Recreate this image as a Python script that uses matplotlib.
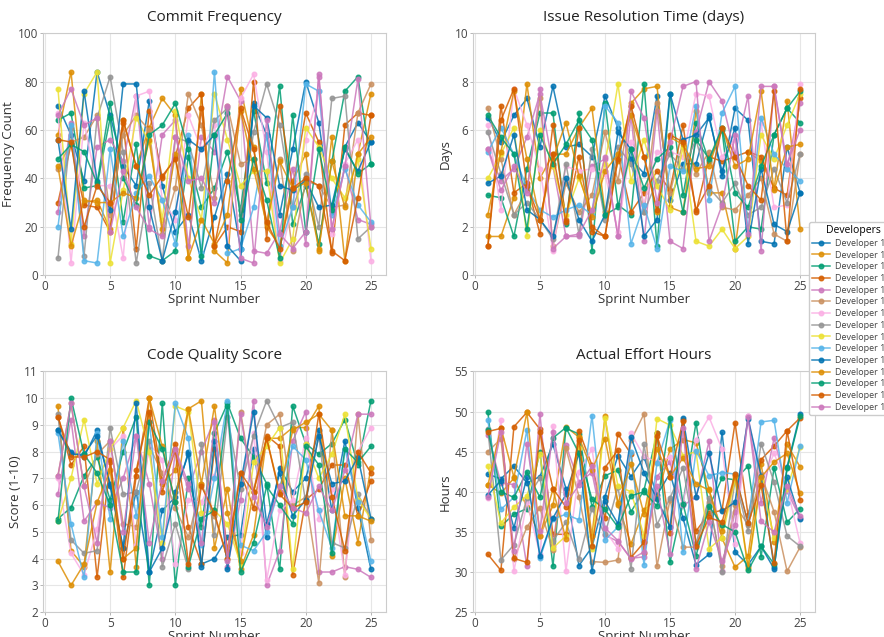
import matplotlib
matplotlib.use("Agg")
import matplotlib.pyplot as plt
import seaborn as sns

# sprint numbers and developer ids
sprints = list(range(1, 26))
developers = ["Developer %d" % d for d in range(100, 115)]

# Commit Frequency (count per sprint), one row per developer
commit_freq = [
    [70, 58, 39, 84, 66, 45, 37, 72, 37, 18, 25, 6, 24, 42, 11, 71, 58, 25, 52, 80, 63, 26, 53, 63, 55],
    [58, 84, 30, 31, 19, 64, 45, 61, 73, 66, 7, 75, 10, 5, 77, 53, 20, 12, 39, 50, 10, 57, 6, 50, 75],
    [64, 67, 36, 37, 65, 22, 54, 8, 6, 10, 49, 28, 36, 51, 27, 68, 38, 78, 21, 37, 13, 47, 76, 82, 46],
    [30, 54, 29, 28, 18, 63, 11, 68, 40, 49, 69, 75, 12, 20, 18, 80, 15, 70, 36, 67, 55, 9, 62, 67, 66],
    [26, 63, 16, 53, 56, 47, 74, 20, 58, 64, 12, 57, 51, 82, 72, 10, 9, 18, 44, 13, 83, 19, 45, 23, 21],
    [44, 55, 57, 66, 25, 58, 66, 60, 17, 36, 75, 62, 32, 70, 46, 48, 22, 48, 10, 39, 37, 28, 29, 67, 79],
    [67, 5, 63, 37, 37, 7, 74, 76, 31, 23, 66, 52, 62, 12, 73, 83, 51, 6, 29, 56, 76, 17, 46, 56, 6],
    [7, 61, 8, 65, 82, 51, 5, 38, 6, 57, 55, 36, 64, 69, 25, 59, 79, 62, 28, 42, 20, 73, 74, 15, 20],
    [77, 13, 75, 84, 5, 35, 65, 55, 23, 68, 40, 23, 75, 56, 37, 43, 43, 5, 15, 61, 53, 40, 32, 48, 11],
    [20, 62, 6, 5, 52, 16, 34, 41, 31, 13, 58, 9, 84, 9, 11, 28, 58, 12, 28, 79, 76, 25, 44, 29, 22],
    [56, 19, 76, 39, 27, 79, 79, 28, 6, 26, 56, 52, 58, 12, 6, 70, 65, 37, 35, 39, 28, 29, 52, 43, 55],
    [45, 12, 31, 30, 30, 34, 32, 56, 19, 50, 7, 23, 13, 25, 68, 44, 21, 47, 36, 38, 11, 47, 28, 50, 57],
    [48, 54, 51, 38, 71, 40, 29, 58, 62, 71, 52, 8, 58, 67, 23, 48, 31, 7, 66, 18, 52, 27, 53, 42, 46],
    [56, 55, 20, 37, 30, 64, 45, 33, 41, 48, 24, 69, 12, 39, 69, 52, 22, 11, 36, 40, 37, 10, 6, 32, 66],
    [66, 77, 62, 65, 18, 43, 28, 19, 16, 57, 39, 40, 30, 70, 7, 5, 64, 17, 11, 18, 82, 19, 45, 81, 20],
]

# Issue Resolution Time (days)
issue_days = [
    [6.5, 5.5, 6.6, 7.3, 5.3, 7.8, 5.3, 5.4, 4.9, 7.4, 6.1, 4.8, 4.2, 7.4, 3.1, 4.6, 4.6, 6.6, 4.1, 6.9, 6.4, 1.4, 1.3, 5.3, 3.4],
    [1.6, 1.6, 3.2, 7.9, 4.0, 5.0, 5.0, 6.1, 6.9, 2.6, 4.7, 7.1, 7.7, 7.8, 2.8, 2.6, 6.8, 3.4, 3.4, 1.1, 5.1, 4.7, 3.6, 7.2, 1.9],
    [3.3, 3.2, 1.6, 4.4, 6.7, 6.7, 2.1, 6.7, 1.0, 7.1, 2.9, 2.5, 7.9, 1.2, 7.5, 3.3, 6.3, 4.7, 6.0, 1.4, 2.0, 1.9, 5.8, 6.9, 6.3],
    [1.2, 7.0, 3.4, 3.8, 1.7, 6.2, 2.3, 4.9, 1.8, 1.6, 5.0, 2.6, 3.4, 4.3, 3.5, 6.2, 2.6, 4.9, 4.7, 4.9, 5.1, 4.9, 3.6, 3.3, 7.3],
    [5.2, 3.9, 4.4, 5.7, 7.5, 4.5, 1.6, 1.6, 4.5, 4.8, 1.6, 6.6, 1.4, 6.8, 1.4, 1.1, 5.9, 8.0, 7.2, 5.0, 7.4, 1.0, 7.8, 4.4, 7.1],
    [6.9, 4.8, 2.5, 3.5, 7.3, 1.2, 3.8, 2.6, 3.3, 5.9, 3.9, 7.0, 2.6, 7.1, 3.4, 5.5, 4.2, 5.1, 2.8, 2.7, 3.3, 4.0, 1.7, 1.4, 5.0],
    [6.2, 2.7, 7.7, 6.2, 4.4, 1.0, 4.5, 4.3, 4.4, 4.2, 1.8, 5.5, 2.9, 5.1, 5.1, 4.9, 7.5, 7.4, 4.9, 5.6, 1.6, 6.3, 2.8, 2.9, 7.9],
    [5.9, 4.2, 2.5, 3.0, 2.3, 1.5, 4.6, 1.7, 5.2, 2.3, 5.3, 4.6, 2.6, 3.9, 5.0, 4.4, 5.6, 3.6, 3.0, 3.8, 2.5, 2.8, 4.4, 3.0, 5.0],
    [4.0, 5.0, 6.1, 1.6, 6.0, 4.5, 2.5, 4.0, 2.6, 4.6, 7.9, 3.9, 5.6, 3.7, 2.7, 5.3, 1.4, 1.2, 1.9, 1.1, 1.6, 5.8, 4.8, 6.2, 7.5],
    [5.1, 6.1, 5.0, 3.6, 2.7, 2.4, 2.7, 2.9, 2.5, 7.0, 6.3, 1.3, 2.9, 1.1, 4.5, 4.3, 7.0, 3.1, 6.7, 7.8, 1.8, 6.5, 5.0, 4.4, 3.9],
    [3.8, 4.1, 5.8, 2.7, 2.3, 1.6, 4.0, 2.3, 1.4, 2.5, 5.9, 5.2, 1.6, 2.3, 7.5, 5.6, 5.8, 6.5, 4.3, 6.1, 1.3, 4.4, 2.1, 1.8, 3.4],
    [2.5, 5.1, 7.6, 4.8, 2.3, 4.8, 6.3, 4.1, 2.4, 4.3, 5.0, 6.6, 4.9, 2.6, 5.7, 5.4, 4.4, 4.5, 6.1, 4.5, 4.8, 7.6, 3.5, 5.3, 5.4],
    [6.6, 5.7, 5.0, 1.9, 5.8, 4.6, 5.4, 6.4, 5.6, 2.5, 2.8, 5.2, 3.6, 4.8, 5.3, 2.6, 5.6, 4.8, 6.1, 3.4, 2.8, 4.5, 5.8, 6.9, 7.6],
    [1.2, 6.4, 7.7, 3.7, 2.3, 5.0, 2.2, 6.1, 2.0, 1.6, 4.8, 7.0, 4.9, 2.7, 5.8, 5.5, 2.7, 3.7, 6.1, 4.9, 3.7, 3.1, 7.6, 1.4, 7.7],
    [5.2, 3.5, 4.5, 3.4, 7.7, 1.1, 1.6, 1.7, 2.7, 4.9, 1.6, 7.6, 6.5, 3.0, 5.5, 7.8, 8.0, 1.4, 2.9, 5.8, 1.7, 7.8, 7.8, 4.6, 6.0],
]

# Code Quality Score (1-10)
quality_score = [
    [8.8, 8.0, 7.8, 8.8, 6.7, 4.4, 6.5, 3.5, 5.8, 6.3, 8.0, 3.8, 4.0, 4.8, 4.9, 8.1, 4.8, 7.4, 6.5, 7.0, 8.8, 5.8, 8.4, 5.9, 3.6],
    [9.7, 4.3, 3.7, 8.4, 3.5, 8.9, 3.7, 9.4, 6.8, 7.3, 9.6, 9.9, 4.4, 6.6, 3.6, 4.9, 8.5, 8.5, 8.9, 8.9, 9.7, 4.1, 7.0, 4.6, 7.4],
    [5.5, 5.9, 7.1, 7.8, 6.2, 8.0, 9.3, 3.0, 9.8, 3.0, 7.0, 5.2, 8.7, 9.8, 8.5, 7.8, 6.8, 3.6, 9.7, 8.3, 7.9, 8.3, 9.2, 7.5, 9.9],
    [9.3, 7.5, 8.2, 3.3, 7.6, 3.3, 7.1, 10.0, 6.9, 8.3, 5.2, 3.8, 8.1, 4.3, 7.2, 5.9, 8.6, 8.2, 3.4, 6.2, 6.6, 7.5, 7.5, 5.6, 6.9],
    [6.4, 9.2, 5.4, 6.1, 5.9, 7.0, 8.6, 6.8, 4.0, 8.0, 6.6, 8.0, 9.2, 3.7, 6.2, 9.9, 3.0, 4.3, 8.4, 9.5, 3.5, 3.5, 3.7, 3.6, 3.3],
    [7.1, 9.8, 6.7, 7.9, 8.4, 5.3, 5.2, 8.2, 7.2, 5.9, 4.8, 6.8, 5.6, 4.0, 9.5, 6.5, 9.0, 9.4, 6.0, 6.3, 3.1, 8.8, 3.3, 9.4, 4.7],
    [7.0, 4.2, 3.4, 5.1, 8.1, 8.6, 4.5, 8.3, 7.7, 3.8, 6.2, 6.1, 7.1, 9.3, 4.2, 8.7, 3.2, 5.8, 6.2, 8.5, 5.5, 6.6, 3.4, 8.0, 8.9],
    [9.4, 4.7, 4.2, 4.3, 8.9, 6.4, 6.5, 8.4, 3.7, 5.3, 3.6, 8.3, 4.9, 9.3, 6.6, 8.6, 9.9, 8.9, 9.1, 6.1, 8.6, 4.6, 4.4, 6.4, 5.5],
    [5.4, 7.0, 9.2, 6.8, 8.1, 8.9, 9.9, 8.0, 4.6, 9.7, 9.5, 5.7, 5.8, 5.3, 3.8, 7.6, 8.2, 8.9, 3.6, 8.3, 7.0, 7.9, 9.4, 6.2, 5.5],
    [8.7, 5.3, 3.3, 8.7, 5.5, 8.4, 5.6, 9.1, 4.8, 9.8, 8.5, 4.5, 7.0, 9.9, 4.5, 4.3, 5.0, 6.7, 8.2, 7.7, 5.8, 4.4, 8.1, 6.1, 3.9],
    [8.8, 7.9, 7.9, 8.6, 6.8, 4.4, 9.8, 3.5, 4.4, 6.5, 7.9, 3.7, 8.4, 3.6, 6.8, 9.5, 5.3, 7.2, 5.6, 6.2, 8.6, 6.8, 6.9, 7.8, 5.5],
    [3.9, 3.0, 3.8, 6.1, 7.3, 4.0, 4.4, 10.0, 8.2, 6.1, 9.6, 6.8, 9.7, 5.7, 3.9, 6.5, 8.5, 6.5, 8.8, 9.1, 9.4, 8.8, 5.6, 5.6, 5.4],
    [5.4, 10.0, 7.9, 7.2, 6.0, 3.5, 3.5, 9.1, 8.1, 6.1, 3.7, 5.5, 5.8, 9.7, 3.5, 4.6, 6.7, 6.0, 5.3, 8.2, 7.5, 4.2, 8.1, 7.6, 8.2],
    [9.3, 7.8, 7.8, 8.0, 7.7, 4.0, 7.3, 9.5, 6.5, 8.1, 3.8, 6.7, 5.7, 4.0, 7.2, 6.5, 8.5, 6.4, 5.9, 6.1, 9.4, 6.3, 4.3, 8.0, 7.2],
    [7.1, 9.8, 6.7, 4.6, 8.4, 5.0, 8.6, 4.6, 6.9, 8.1, 6.8, 4.6, 9.1, 3.9, 9.4, 6.3, 5.2, 6.7, 5.9, 5.7, 6.7, 5.8, 7.3, 9.4, 9.4],
]

# Actual Effort Hours
effort_hours = [
    [42.2, 41.6, 43.2, 41.1, 41.9, 45.9, 40.4, 30.8, 33.1, 39.4, 44.5, 41.9, 44.3, 39.6, 42.3, 36.7, 30.9, 32.2, 47.4, 32.5, 30.9, 33.2, 30.4, 43.1, 49.7],
    [40.9, 39.8, 41.7, 38.1, 34.5, 38.3, 48.1, 46.8, 34.5, 49.4, 38.4, 33.5, 37.7, 39.2, 45.3, 46.5, 46.1, 40.3, 34.2, 30.6, 32.0, 43.5, 33.8, 45.9, 43.1],
    [49.9, 35.7, 37.2, 37.9, 45.0, 30.7, 47.9, 47.2, 38.1, 42.0, 42.7, 37.5, 40.2, 47.3, 31.2, 38.6, 48.6, 38.1, 41.7, 41.5, 43.2, 31.9, 43.0, 36.2, 37.9],
    [32.2, 30.2, 48.1, 49.9, 47.8, 34.7, 34.7, 47.6, 43.3, 36.7, 47.2, 44.7, 32.4, 47.3, 34.9, 49.0, 35.1, 37.3, 37.7, 48.6, 37.1, 44.0, 45.7, 47.6, 49.2],
    [47.1, 41.1, 40.9, 30.7, 49.7, 33.2, 45.8, 41.2, 42.4, 34.6, 33.8, 31.7, 31.9, 41.9, 43.7, 38.3, 39.3, 46.3, 30.1, 37.5, 49.4, 38.6, 46.7, 40.1, 36.7],
    [45.0, 46.6, 31.6, 35.6, 38.0, 32.7, 45.4, 39.4, 31.3, 31.2, 31.5, 46.4, 49.7, 30.7, 39.0, 33.1, 33.1, 38.7, 30.7, 38.3, 35.9, 42.2, 37.5, 30.1, 33.1],
    [39.2, 48.9, 30.1, 38.7, 32.2, 48.2, 30.1, 42.5, 45.3, 35.2, 32.9, 47.3, 44.4, 43.7, 44.3, 38.6, 46.5, 49.3, 45.3, 33.5, 49.5, 41.0, 44.8, 40.6, 33.6],
    [47.8, 31.5, 33.4, 39.2, 41.7, 33.9, 36.2, 31.6, 37.9, 34.7, 40.6, 30.4, 45.9, 35.9, 39.2, 43.0, 33.6, 39.2, 30.0, 41.5, 35.1, 46.0, 41.2, 34.5, 33.2],
    [43.2, 36.1, 38.1, 39.5, 44.7, 33.0, 34.5, 45.5, 32.9, 49.2, 40.7, 40.0, 34.5, 49.1, 48.3, 44.5, 45.0, 32.9, 34.3, 41.6, 30.4, 41.3, 34.3, 40.4, 45.6],
    [48.9, 37.8, 39.3, 47.7, 31.7, 36.6, 37.2, 36.5, 49.5, 34.0, 35.6, 44.9, 30.9, 43.6, 48.9, 32.5, 45.1, 42.0, 42.4, 42.2, 36.1, 48.7, 48.9, 38.6, 45.7],
    [39.6, 41.4, 35.5, 41.8, 32.0, 36.7, 39.7, 44.8, 30.1, 38.8, 36.0, 46.8, 42.4, 39.1, 35.6, 49.2, 39.4, 44.8, 37.6, 38.7, 49.1, 42.0, 30.6, 41.8, 36.6],
    [40.8, 48.0, 41.8, 49.9, 34.5, 40.3, 34.1, 46.8, 42.7, 46.6, 38.6, 43.4, 37.2, 45.3, 41.9, 44.2, 41.0, 40.2, 35.1, 42.0, 30.6, 41.8, 43.7, 44.8, 39.8],
    [47.7, 40.0, 39.3, 42.5, 39.3, 46.7, 48.0, 44.8, 39.1, 37.8, 35.6, 39.5, 40.0, 38.2, 49.2, 38.5, 32.0, 38.2, 35.9, 35.0, 30.2, 33.2, 31.0, 42.9, 49.4],
    [47.5, 47.9, 31.7, 31.2, 47.5, 40.4, 38.1, 46.5, 33.3, 43.0, 45.2, 31.8, 33.7, 47.0, 41.9, 48.8, 33.3, 36.8, 36.2, 42.2, 36.1, 40.8, 31.1, 47.6, 39.0],
    [39.4, 47.5, 32.6, 46.0, 35.1, 47.5, 38.6, 40.8, 43.2, 35.5, 33.9, 31.6, 32.5, 40.7, 32.2, 47.9, 30.4, 36.2, 31.4, 35.8, 49.3, 36.3, 35.0, 40.7, 37.0],
]

plt.rcParams['font.family'] = ['Open Sans', 'DejaVu Sans']
colors = sns.color_palette("colorblind", 10)

fig = plt.figure(figsize=(8.84, 6.37), dpi=100)

# axes boxes in figure fractions (left, bottom, width, height)
panels = [
    ([0.0486, 0.568, 0.388, 0.380], commit_freq, "Commit Frequency", "Frequency Count", (0, 100), range(0, 101, 20)),
    ([0.535, 0.568, 0.387, 0.380], issue_days, "Issue Resolution Time (days)", "Days", (0, 10), range(0, 11, 2)),
    ([0.0486, 0.039, 0.388, 0.378], quality_score, "Code Quality Score", "Score (1-10)", (2, 11), range(2, 12)),
    ([0.535, 0.039, 0.387, 0.378], effort_hours, "Actual Effort Hours", "Hours", (25, 55), range(25, 56, 5)),
]

handles = []
for box, data, title, ylab, ylim, yticks in panels:
    ax = fig.add_axes(box)
    for i, name in enumerate(developers):
        ln, = ax.plot(sprints, data[i], marker='o', markersize=3.3, linewidth=1.1,
                      color=colors[i % 10], alpha=0.85, label=name)
        if title == "Commit Frequency":
            handles.append(ln)
    ax.set_xlim(-0.15, 26.15)
    ax.set_ylim(*ylim)
    ax.set_xticks([0, 5, 10, 15, 20, 25])
    ax.set_yticks(list(yticks))
    ax.set_title(title, fontsize=11, color='#222222', pad=9)
    ax.set_xlabel("Sprint Number", fontsize=9.5, color='#333333', labelpad=0)
    ax.set_ylabel(ylab, fontsize=9.5, color='#333333', labelpad=2)
    ax.grid(True, color='#e6e6e6', linewidth=0.8)
    ax.set_axisbelow(True)
    for sp in ax.spines.values():
        sp.set_color('#cccccc')
    ax.tick_params(labelsize=8.5, colors='#444444', length=2.5, width=0.6, pad=1)
    ax.tick_params(color='#aaaaaa')

leg = fig.legend(handles=handles, labels=developers, title="Developers",
                 loc='center left', bbox_to_anchor=(809 / 884, 0.5),
                 fontsize=6.5, title_fontsize=7.5, labelspacing=0.3,
                 handlelength=2.0, handletextpad=0.5, borderpad=0.35,
                 borderaxespad=0, framealpha=1, edgecolor='#cccccc')
for t in leg.get_texts():
    t.set_color('#444444')

fig.savefig("out.png", dpi=100)
